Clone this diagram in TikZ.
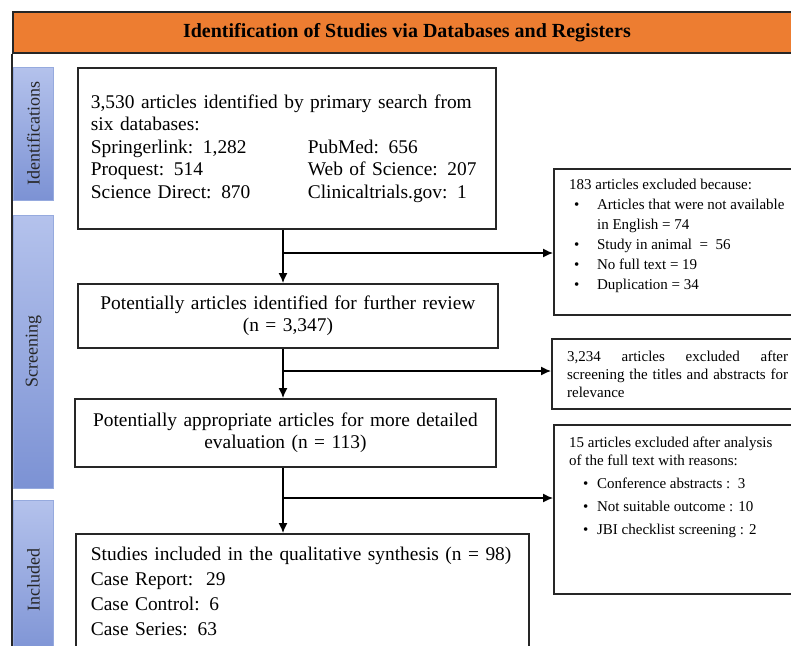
\documentclass[tikz,border=0pt]{standalone}
\usepackage{fontspec}
\setmainfont{Liberation Serif}
\usetikzlibrary{arrows.meta}

\definecolor{hdrorange}{RGB}{237,125,49}
\definecolor{stagelight}{RGB}{180,194,236}
\definecolor{stagedark}{RGB}{124,146,212}
\definecolor{stageedge}{RGB}{150,170,222}

\tikzset{
  mainbox/.style={draw=black!85, line width=1.8pt, rectangle, anchor=north west,
    inner xsep=13pt, font=\fontsize{19.4}{22.5}\selectfont},
  exbox/.style={draw=black!85, line width=2.2pt, rectangle, anchor=north west,
    inner xsep=15pt, inner ysep=8pt, align=left, font=\fontsize{15}{20}\selectfont},
  stage/.style={rotate=90, draw=stageedge, line width=0.6pt, top color=stagelight,
    bottom color=stagedark, minimum height=40pt, text=black!85,
    font=\fontsize{18}{18}\selectfont},
  flow/.style={line width=1.3pt, -{Latex[length=10pt,width=9pt]}},
}
\newcommand{\bul}{\hspace*{5pt}\makebox[23pt][l]{\textbullet}}
\newcommand{\bulb}{\hspace*{14pt}\makebox[14pt][l]{\textbullet}}

\begin{document}
\begin{tikzpicture}[x=1pt, y=-1pt]
\clip (0,0) rectangle (791,645);
\fill[white] (0,0) rectangle (791,645);

% Header and left rule
\node[draw=black!85, line width=1.8pt, fill=hdrorange, anchor=north west,
  minimum width=788pt, minimum height=41pt,
  font=\bfseries\fontsize{20}{20}\selectfont] (hdr) at (12,11)
  {Identification of Studies via Databases and Registers};
\draw[line width=1.5pt, black!85] (hdr.south west) -- ++(0,620);

% Stage labels
\node[stage, minimum width=133pt] (idf) at (33.5,133.5) {Identifications};
\node[stage, minimum width=273pt] (scr) at (33.5,351.5) {Screening};
\node[stage, minimum width=160pt] (inc) at (33.5,580) {Included};

% Main column
\node[mainbox, text width=392pt, align=left, minimum height=161pt] (srch) at (77,67)
  {3,530 articles identified by primary search from\\
   six databases:\\
   \makebox[217pt][l]{Springerlink: 1,282}PubMed: 656\\
   \makebox[217pt][l]{Proquest: 514}Web of Science: 207\\
   \makebox[217pt][l]{Science Direct: 870}Clinicaltrials.gov: 1};
\node[mainbox, text width=394pt, align=center, minimum height=64pt] (rev) at (77,283)
  {Potentially articles identified for further review\\ (n = 3,347)};
\node[mainbox, text width=395pt, align=center, minimum height=68pt] (eval) at (74,398)
  {Potentially appropriate articles for more detailed\\ evaluation (n = 113)};
\node[mainbox, inner xsep=15pt, text width=423pt, align=left, minimum height=115pt,
  font=\fontsize{19.4}{25}\selectfont] (incl) at (75,533)
  {Studies included in the qualitative synthesis (n = 98)\\
   Case Report:~~29\\
   Case Control: 6\\
   Case Series: 63};

% Exclusion boxes
\node[exbox, inner ysep=10pt] (exa) at (553,168)
  {\parbox[c][126pt][t]{217pt}{183 articles excluded because:\\
   \bul Articles that were not available\\
   \hspace*{28pt}in English = 74\\
   \bul Study in animal~~=~~56\\
   \bul No full text = 19\\
   \bul Duplication = 34}};
\node[exbox, align=justify, text width=221pt, minimum height=70pt,
  font=\fontsize{15}{18}\selectfont] (exb) at (551,338)
  {3,234 articles excluded after\linebreak screening the titles and abstracts for\linebreak relevance};
\node[exbox, inner ysep=12pt, font=\fontsize{15}{18}\selectfont] (exc) at (553,424)
  {\parbox[c][145pt][t]{217pt}{15 articles excluded after analysis\\
   of the full text with reasons:\\[5pt]
   \bulb Conference abstracts :~~3\\[5pt]
   \bulb Not suitable outcome : 10\\[5pt]
   \bulb JBI checklist screening : 2}};

% Junctions
\coordinate (j1) at (283,253);
\coordinate (j2) at (283,371);
\coordinate (j3) at (283,498);

% Edges
\draw[flow] (srch.south -| j1) -- (rev.north -| j1);
\draw[flow] (j1) -- (j1 -| exa.west);
\draw[flow] (rev.south -| j2) -- (eval.north -| j2);
\draw[flow] (j2) -- (j2 -| exb.west);
\draw[flow] (eval.south -| j3) -- (incl.north -| j3);
\draw[flow] (j3) -- (j3 -| exc.west);
\end{tikzpicture}
\end{document}
